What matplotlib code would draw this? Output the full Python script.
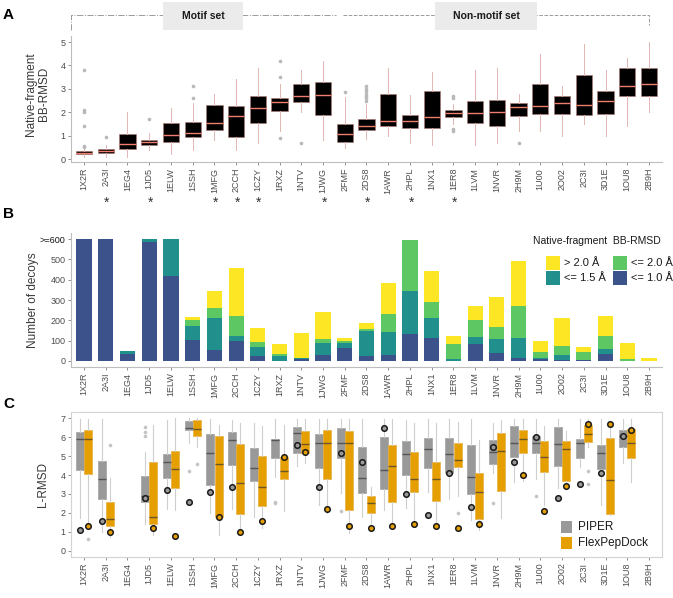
import matplotlib
matplotlib.use('Agg')
import numpy as np
import matplotlib.pyplot as plt
from matplotlib.patches import Rectangle
from matplotlib.lines import Line2D
import matplotlib.transforms as mtransforms

plt.rcParams['font.family'] = ['Liberation Sans', 'DejaVu Sans']

# ---------------- data ----------------
cats = ['1X2R', '2A3I', '1EG4', '1JD5', '1ELW', '1SSH', '1MFG', '2CCH', '1CZY', '1RXZ',
        '1NTV', '1JWG', '2FMF', '2DS8', '1AWR', '2HPL', '1NX1', '1ER8', '1LVM', '1NVR',
        '2H9M', '1U00', '2O02', '2C3I', '3D1E', '1OU8', '2B9H']
n_motif = 12
starred = ['2A3I', '1JD5', '1MFG', '2CCH', '1CZY', '1JWG', '2DS8', '2HPL', '1ER8']

# Panel A: native-fragment BB-RMSD box stats (q1, median, q3, whisker low, whisker high)
a_q1 = [0.20, 0.26, 0.44, 0.62, 0.74, 0.93, 1.23, 0.96, 1.53, 2.05, 2.45, 1.90, 0.73, 1.22,
        1.43, 1.33, 1.33, 1.80, 1.52, 1.43, 1.83, 1.92, 1.92, 1.86, 1.92, 2.70, 2.70]
a_med = [0.27, 0.34, 0.64, 0.73, 1.03, 1.13, 1.53, 1.82, 2.16, 2.42, 2.70, 2.75, 1.07, 1.42,
         1.63, 1.63, 1.80, 1.95, 1.95, 2.02, 2.23, 2.26, 2.40, 2.30, 2.46, 3.10, 3.20]
a_q3 = [0.34, 0.41, 1.09, 0.83, 1.52, 1.58, 2.30, 2.26, 2.70, 2.60, 3.20, 3.30, 1.50, 1.69,
        2.77, 1.90, 2.90, 2.10, 2.48, 2.52, 2.40, 3.22, 2.70, 3.58, 2.90, 3.87, 3.90]
a_lo = [0.10, 0.10, 0.10, 0.40, 0.20, 0.40, 0.80, 0.40, 0.70, 1.20, 2.00, 0.80, 0.45, 0.85,
        1.00, 0.70, 0.60, 1.50, 0.60, 0.70, 1.20, 1.20, 1.00, 1.50, 1.00, 1.40, 2.00]
a_hi = [0.45, 0.60, 2.00, 1.10, 2.20, 2.40, 2.80, 3.40, 3.90, 3.20, 3.80, 4.20, 2.65, 2.35,
        3.90, 2.75, 3.70, 2.35, 3.80, 3.90, 2.80, 4.50, 3.10, 4.90, 3.80, 4.30, 5.00]
a_out = [[0.52, 0.57, 1.4, 2.0, 2.1, 3.8], [0.95], [], [1.7], [], [2.6, 3.1], [], [], [],
         [0.9, 3.5, 4.2], [0.7], [], [2.85], [2.5, 2.6, 2.7, 2.8, 2.9, 3.0, 3.1], [], [], [],
         [1.2, 1.3, 2.6, 2.7], [], [], [0.7], [], [], [], [], [], []]

# Panel B: number of decoys per BB-RMSD class
b_le10 = [600, 600, 34, 584, 418, 103, 56, 98, 25, 2, 8, 30, 64, 26, 29, 133, 111, 0,
          84, 38, 13, 8, 6, 3, 33, 0, 0]
b_le15 = [0, 0, 17, 16, 182, 69, 154, 27, 45, 22, 5, 57, 26, 123, 113, 213, 100, 8,
          36, 70, 102, 8, 24, 3, 24, 2, 0]
b_le20 = [0, 0, 0, 0, 0, 30, 52, 96, 22, 12, 3, 21, 7, 7, 90, 249, 78, 76,
          83, 58, 155, 27, 45, 40, 66, 8, 0]
b_gt20 = [0, 0, 0, 0, 0, 14, 81, 235, 70, 46, 120, 131, 16, 29, 150, 0, 154, 39,
          67, 147, 222, 55, 138, 24, 100, 77, 13]
b_labels = ['> 2.0 Å', '<= 1.5 Å', '<= 2.0 Å', '<= 1.0 Å']
b_yticklabels = ['0', '100', '200', '300', '400', '500', '>=600']

# Panel C: L-RMSD box stats, PIPER
nan = np.nan
p_q1 = [4.28, 2.74, nan, 2.60, 3.86, 6.37, 3.47, 4.53, 3.68, 4.88, 5.18, 4.39, 4.91, 3.07,
        3.25, 4.02, 4.39, 4.09, 2.98, 4.56, 4.96, 5.14, 4.47, 4.88, 4.30, 5.46, nan]
p_med = [5.88, 3.79, nan, 2.88, 4.67, 6.46, 5.18, 5.84, 4.39, 5.84, 6.21, 5.67, 5.67, 3.86,
         4.25, 5.09, 5.35, 5.09, 3.91, 5.23, 5.67, 5.67, 5.61, 5.67, 5.18, 6.07, nan]
p_q3 = [6.25, 4.74, nan, 3.95, 5.10, 6.86, 6.16, 6.25, 5.40, 5.89, 6.54, 6.16, 6.46, 5.49,
        6.02, 5.79, 5.96, 5.96, 5.58, 5.84, 6.58, 6.07, 6.51, 5.89, 5.58, 6.37, nan]
p_lo = [1.72, 1.02, nan, 1.40, 2.21, 5.67, 1.98, 2.21, 1.81, 3.90, 4.49, 2.42, 3.04, 1.81,
        2.16, 2.25, 3.09, 2.72, 1.63, 4.09, 3.61, 3.79, 3.30, 4.44, 2.42, 4.61, nan]
p_hi = [6.95, 6.95, nan, 5.23, 6.89, 6.98, 6.95, 6.90, 6.72, 6.95, 6.95, 6.95, 6.95, 6.95,
        6.95, 6.89, 6.95, 6.95, 6.95, 6.72, 6.95, 6.95, 6.95, 6.95, 6.95, 6.95, nan]
p_out = [[], [], [], [6.05, 6.28, 6.54], [], [4.21], [], [], [], [2.5, 2.6], [], [], [2.1],
         [], [], [], [], [], [], [2.51], [], [2.91], [], [], [], [], []]
p_ref = [1.10, 1.60, nan, 2.79, 3.19, 2.60, 3.09, 3.39, nan, nan, 5.58, 3.39, 5.18, 4.67,
         6.46, 2.98, 1.89, 4.09, 2.30, 5.46, 4.70, 5.98, 2.81, 3.51, 4.09, 6.07, nan]

# Panel C: L-RMSD box stats, FlexPepDock
f_q1 = [4.05, 1.33, nan, 1.40, 3.30, 6.07, 1.81, 1.93, 2.39, 3.79, 5.14, 3.77, 2.14, 1.98,
        2.60, 3.12, 2.63, 4.40, 1.67, 3.18, 5.18, 4.14, 3.68, 5.75, 1.95, 4.88, nan]
f_med = [5.88, 1.70, nan, 1.81, 4.30, 6.42, 4.56, 3.56, 3.39, 4.21, 5.61, 5.67, 5.67, 2.51,
         4.47, 3.79, 3.79, 4.79, 3.09, 5.28, 5.89, 4.96, 5.35, 6.16, 3.74, 5.67, nan]
f_q3 = [6.37, 2.60, nan, 4.67, 5.26, 6.89, 6.05, 5.61, 5.02, 4.96, 6.32, 6.35, 6.32, 2.89,
        5.56, 5.19, 4.67, 5.67, 4.09, 6.19, 6.37, 5.79, 5.79, 6.63, 5.93, 6.42, nan]
f_lo = [1.46, 0.75, nan, 0.84, 2.15, 5.49, 0.84, 0.84, 1.19, 2.10, 4.61, 1.98, 0.93, 1.46,
        1.46, 1.46, 1.46, 2.90, 1.10, 1.72, 3.68, 2.42, 3.30, 5.49, 1.90, 3.61, nan]
f_hi = [6.95, 3.86, nan, 6.63, 6.98, 6.98, 6.63, 6.72, 6.60, 6.63, 6.95, 6.95, 6.95, 3.39,
        6.95, 6.72, 6.72, 6.80, 5.84, 6.89, 6.95, 6.60, 6.32, 6.95, 6.72, 6.95, nan]
f_out = [[0.61], [5.58], [], [], [], [4.58], [], [], [], [], [], [], [], [], [], [], [],
         [2.02], [], [], [], [], [], [4.19, 3.51], [], [], []]
f_ref = [1.30, 1.02, nan, 1.21, 0.81, nan, 1.81, 1.02, 1.60, 4.96, 5.19, 2.19, 1.30, 1.19,
         1.30, 1.42, 1.30, 1.19, 1.42, nan, 4.00, 2.10, 3.40, 6.68, 6.68, 6.37, nan]
methods = ['PIPER', 'FlexPepDock']

# ---------------- styling ----------------
W, H = 673, 598
fig = plt.figure(figsize=(W / 100, H / 100), dpi=100)


def ax_rect(left, top, right, bottom):
    return [left / W, 1 - bottom / H, (right - left) / W, (bottom - top) / H]


def fx(px):
    return px / W


def fy(py):
    return 1 - py / H


axA = fig.add_axes(ax_rect(71, 36.3, 662, 162.4))
axB = fig.add_axes(ax_rect(71, 233, 662, 367))
axC = fig.add_axes(ax_rect(71, 412, 662, 557))

x = np.arange(len(cats))
tick_col = '#4D4D4D'
line_col = '#BDBDBD'

# ---- Panel A ----
statsA = []
for i in range(len(cats)):
    statsA.append(dict(med=a_med[i], q1=a_q1[i], q3=a_q3[i], whislo=a_lo[i], whishi=a_hi[i],
                       fliers=a_out[i]))
axA.bxp(statsA, positions=x, widths=0.75, patch_artist=True, showcaps=False,
        manage_ticks=False,
        boxprops=dict(facecolor='black', edgecolor='#B07874', linewidth=0.4),
        medianprops=dict(color='#F07E6E', linewidth=1.0),
        whiskerprops=dict(color='#E3B5B2', linewidth=0.7),
        flierprops=dict(marker='o', markersize=2.6, markerfacecolor='#B8B8B8',
                        markeredgecolor='none'))
axA.set_ylim(-0.145, 5.245)
axA.set_yticks([0, 1, 2, 3, 4, 5])
axA.set_ylabel('Native-fragment\nBB-RMSD', fontsize=8.5, color='#3A3A3A', linespacing=1.1)
axA.yaxis.set_label_coords(-0.036, 0.54)

# asterisks below A labels
tr = mtransforms.blended_transform_factory(axA.transData, fig.transFigure)
for c in starred:
    axA.text(cats.index(c) + 0.05, fy(203), '*', transform=tr, ha='center', va='center',
             fontsize=10, color='#333333')

# top brackets
trb = mtransforms.blended_transform_factory(axA.transData, fig.transFigure)
axA.add_line(Line2D([-0.6, -0.6, 11.6], [fy(30), fy(15), fy(15)], transform=trb,
                    color='#9A9A9A', lw=0.7, ls='-.', clip_on=False))
axA.add_line(Line2D([11.9, 26, 26], [fy(15), fy(15), fy(25)], transform=trb,
                    color='#9A9A9A', lw=0.7, ls='--', clip_on=False))
for (l, r, label) in [(163, 243, 'Motif set'), (435, 537, 'Non-motif set')]:
    fig.patches.append(Rectangle((fx(l), fy(30)), fx(r) - fx(l), fy(2) - fy(30),
                                 transform=fig.transFigure, facecolor='#EBEBEB',
                                 edgecolor='none', zorder=3))
    fig.text(fx((l + r) / 2), fy(16), label, ha='center', va='center', fontsize=7.5,
             fontweight='bold', color='#1A1A1A', zorder=4)

# ---- Panel B ----
cols = {'le10': '#3B528B', 'le15': '#21908C', 'le20': '#5DC863', 'gt20': '#FDE725'}
b1 = np.array(b_le10)
b2 = np.array(b_le15)
b3 = np.array(b_le20)
b4 = np.array(b_gt20)
bw = 0.7
axB.bar(x, b1, width=bw, color=cols['le10'], linewidth=0)
axB.bar(x, b2, bottom=b1, width=bw, color=cols['le15'], linewidth=0)
axB.bar(x, b3, bottom=b1 + b2, width=bw, color=cols['le20'], linewidth=0)
axB.bar(x, b4, bottom=b1 + b2 + b3, width=bw, color=cols['gt20'], linewidth=0)
axB.set_ylim(-30, 630)
axB.set_yticks([0, 100, 200, 300, 400, 500, 600])
axB.set_yticklabels(b_yticklabels)
axB.set_ylabel('Number of decoys', fontsize=8.5, color='#3A3A3A')
axB.yaxis.set_label_coords(-0.054, 0.5)

# legend for B
fig.text(fx(533), fy(241), 'Native-fragment  BB-RMSD', ha='left', va='center',
         fontsize=7.5, color='#1A1A1A')
for (lx, ty, colr, lab) in [(546, 256, cols['gt20'], b_labels[0]),
                            (546, 271, cols['le15'], b_labels[1]),
                            (613, 256, cols['le20'], b_labels[2]),
                            (613, 271, cols['le10'], b_labels[3])]:
    fig.patches.append(Rectangle((fx(lx), fy(ty + 14)), fx(14), fy(0) - fy(14),
                                 transform=fig.transFigure, facecolor=colr, edgecolor='none'))
    fig.text(fx(lx + 18), fy(ty + 7), lab, ha='left', va='center', fontsize=8,
             color='#1A1A1A')

# ---- Panel C ----
def build(q1, med, q3, lo, hi, out):
    st, pos = [], []
    for i in range(len(cats)):
        if np.isnan(med[i]):
            continue
        st.append(dict(med=med[i], q1=q1[i], q3=q3[i], whislo=lo[i], whishi=hi[i],
                       fliers=out[i]))
        pos.append(i)
    return st, np.array(pos, dtype=float)


off = 0.19
cw = 0.37
stP, posP = build(p_q1, p_med, p_q3, p_lo, p_hi, p_out)
stF, posF = build(f_q1, f_med, f_q3, f_lo, f_hi, f_out)
fl = dict(marker='o', markersize=2.6, markerfacecolor='#C4C4C4', markeredgecolor='none')
axC.bxp(stP, positions=posP - off, widths=cw, patch_artist=True, showcaps=False,
        manage_ticks=False,
        boxprops=dict(facecolor='#999999', edgecolor='#A0A0A0', linewidth=0.5),
        medianprops=dict(color='#555555', linewidth=1.0),
        whiskerprops=dict(color='#CFCFCF', linewidth=0.8), flierprops=fl)
axC.bxp(stF, positions=posF + off, widths=cw, patch_artist=True, showcaps=False,
        manage_ticks=False,
        boxprops=dict(facecolor='#E69F00', edgecolor='#E8B040', linewidth=0.5),
        medianprops=dict(color='#6B5526', linewidth=1.0),
        whiskerprops=dict(color='#CFCFCF', linewidth=0.8), flierprops=fl)
pr = np.array(p_ref)
fr = np.array(f_ref)
mP = ~np.isnan(pr)
mF = ~np.isnan(fr)
axC.scatter(x[mP] - off, pr[mP], s=16, facecolor='#999999', edgecolor='#1A1A1A',
            linewidth=1.1, zorder=5)
axC.scatter(x[mF] + off, fr[mF], s=16, facecolor='#E69F00', edgecolor='#1A1A1A',
            linewidth=1.1, zorder=5)
axC.set_ylim(-0.316, 7.316)
axC.set_yticks(range(8))
axC.set_ylabel('L-RMSD', fontsize=8.5, color='#3A3A3A')
axC.yaxis.set_label_coords(-0.037, 0.5)

# legend for C
for (ty, colr, lab) in [(521, '#999999', methods[0]), (537, '#E69F00', methods[1])]:
    fig.patches.append(Rectangle((fx(561), fy(ty + 12)), fx(11), fy(0) - fy(12),
                                 transform=fig.transFigure, facecolor=colr, edgecolor='none'))
    fig.text(fx(578), fy(ty + 6), lab, ha='left', va='center', fontsize=8.5,
             color='#1A1A1A')

# common axis styling
for ax in (axA, axB, axC):
    ax.set_xlim(-0.6, len(cats) - 0.4)
    ax.set_xticks(x)
    ax.set_xticklabels(cats, rotation=90)
    ax.tick_params(axis='both', direction='out', length=2.5, width=0.6, color='#808080',
                   labelsize=6.5, labelcolor=tick_col, pad=1.5)
    for s in ax.spines.values():
        s.set_color(line_col)
        s.set_linewidth(0.8)
for ax in (axA, axB):
    ax.spines['top'].set_visible(False)
    ax.spines['right'].set_visible(False)
for s in axC.spines.values():
    s.set_color('#D3D3D3')
axB.get_yticklabels()[-1].set_color('#111111')

# panel letters
for (lab, px, py) in [('A', 8, 15), ('B', 9, 214), ('C', 9, 404)]:
    fig.text(fx(px), fy(py), lab, ha='center', va='center', fontsize=11,
             fontweight='bold', color='black')

fig.savefig('out.png', dpi=100)
